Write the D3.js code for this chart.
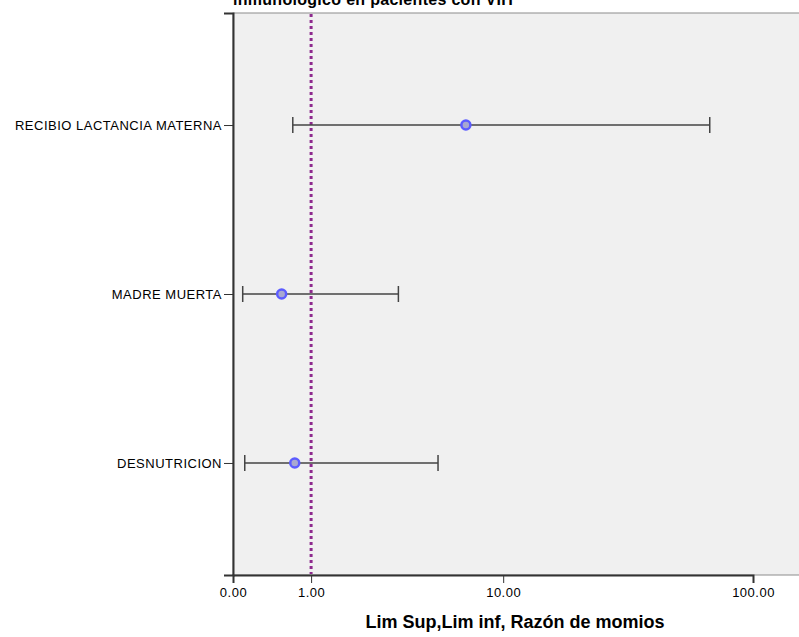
<!DOCTYPE html>
<html>
  <head>
    <meta charset="utf-8">
    <title>Razon de momios</title>
    <script src="https://d3js.org/d3.v7.min.js"></script>
    <style>
      body { margin: 0; background: #fff; }
      text { font-family: "Liberation Sans", Arial, sans-serif; }
    </style>
  </head>
  <body>
    <div id="vis"></div>
    <script>
      // values
      var categories = ["RECIBIO LACTANCIA MATERNA", "MADRE MUERTA", "DESNUTRICION"];
      var razon = [6.9, 0.54, 0.73];
      var limInf = [0.70, 0.09, 0.11];
      var limSup = [67.8, 3.34, 5.17];
      var xTicks = [0, 1, 10, 100];
      var refValue = 1;

      var chartW = 799, chartH = 637;
      var plotLeft = 233, plotTop = 13, plotBottom = 575;

      var svg = d3.select("#vis").append("svg")
        .attr("width", chartW)
        .attr("height", chartH);

      // SPSS safe-log axis -> symlog with constant 1
      var x = d3.scaleSymlog().constant(1).domain([0, 100]).range([plotLeft, 753]);
      var y = d3.scalePoint().domain(categories).range([plotTop, plotBottom]).padding(0.663);

      svg.append("rect")
        .attr("x", plotLeft).attr("y", plotTop)
        .attr("width", chartW - plotLeft + 5).attr("height", plotBottom - plotTop)
        .attr("fill", "#f0f0f0")
        .attr("stroke", "#8c8c8c");

      // title, partly above the page
      svg.append("text")
        .attr("x", 373).attr("y", 5)
        .attr("text-anchor", "middle")
        .style("font-size", "16px").style("font-weight", "bold")
        .style("letter-spacing", "0.3px")
        .text("inmunologico en pacientes con VIH");

      var xAxis = d3.axisBottom(x)
        .tickValues(xTicks)
        .tickSize(8)
        .tickFormat(d3.format(".2f"));

      var gx = svg.append("g")
        .attr("transform", "translate(0," + plotBottom + ")")
        .call(xAxis);
      gx.select(".domain").attr("stroke", "#333").attr("stroke-width", 2);
      gx.selectAll(".tick line").attr("stroke", "#333");
      gx.selectAll(".tick text").style("font-size", "13px").style("letter-spacing", "0.5px")
        .attr("fill", "#000").attr("dy", "0.85em");

      var yAxis = d3.axisLeft(y).tickSize(9).tickPadding(2);
      var gy = svg.append("g")
        .attr("transform", "translate(" + plotLeft + ",0)")
        .call(yAxis);
      gy.select(".domain").attr("stroke", "#333").attr("stroke-width", 2);
      gy.selectAll(".tick line").attr("stroke", "#333");
      gy.selectAll(".tick text").style("font-size", "13px").style("letter-spacing", "0.5px")
        .attr("fill", "#000");

      svg.append("text")
        .attr("x", 515).attr("y", 628)
        .attr("text-anchor", "middle")
        .style("font-size", "18px").style("font-weight", "bold")
        .text("Lim Sup,Lim inf, Razón de momios");

      // reference line
      svg.append("line")
        .attr("x1", x(refValue)).attr("x2", x(refValue))
        .attr("y1", plotTop + 1).attr("y2", plotBottom - 1)
        .attr("stroke", "#8e2a8e")
        .attr("stroke-width", 3)
        .attr("stroke-dasharray", "3,3");

      var rows = categories.map(function(c, i) {
        return { cat: c, r: razon[i], lo: limInf[i], hi: limSup[i] };
      });

      var g = svg.append("g");
      rows.forEach(function(d) {
        var cy = y(d.cat);
        g.append("line")
          .attr("x1", x(d.lo)).attr("x2", x(d.hi))
          .attr("y1", cy).attr("y2", cy)
          .attr("stroke", "#444").attr("stroke-width", 1.5);
        [d.lo, d.hi].forEach(function(v) {
          g.append("line")
            .attr("x1", x(v)).attr("x2", x(v))
            .attr("y1", cy - 8).attr("y2", cy + 8)
            .attr("stroke", "#444").attr("stroke-width", 1.5);
        });
        g.append("circle")
          .attr("cx", x(d.r)).attr("cy", cy)
          .attr("r", 4.5)
          .attr("fill", "#a8a8d0")
          .attr("stroke", "#5c5cff")
          .attr("stroke-width", 2.5);
      });
    </script>
  </body>
</html>
